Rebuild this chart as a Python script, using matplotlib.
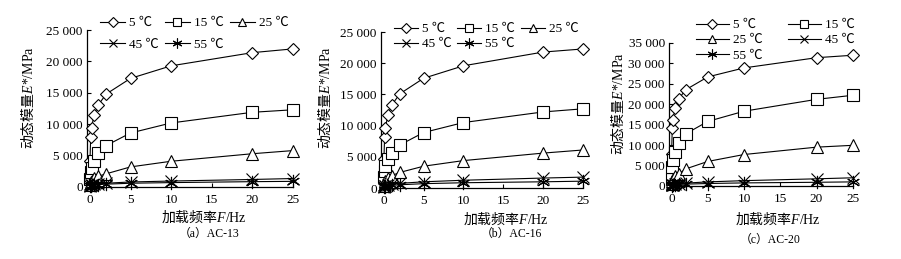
import matplotlib
matplotlib.use("Agg")
import matplotlib.pyplot as plt
from matplotlib.ticker import FuncFormatter, MultipleLocator
from matplotlib.font_manager import FontProperties

plt.rcParams['mathtext.fontset'] = 'custom'
plt.rcParams['mathtext.rm'] = 'Liberation Serif'
plt.rcParams['mathtext.it'] = 'Liberation Serif:italic'
plt.rcParams['font.family'] = ['Liberation Serif', 'Noto Sans CJK SC']

# ---------------- data ----------------
freq = [0.01, 0.1, 0.2, 0.5, 1, 2, 5, 10, 20, 25]
temps = ['5 ℃', '15 ℃', '25 ℃', '45 ℃', '55 ℃']

ac13_5 = [4200, 7900, 9400, 11400, 13000, 14800, 17300, 19300, 21400, 22000]
ac13_15 = [1200, 2400, 3000, 4200, 5400, 6600, 8600, 10200, 11900, 12300]
ac13_25 = [300, 800, 1000, 1400, 1700, 2100, 3200, 4100, 5300, 5800]
ac13_45 = [120, 250, 300, 400, 500, 600, 800, 950, 1200, 1350]
ac13_55 = [100, 200, 250, 320, 380, 450, 600, 700, 850, 900]

ac16_5 = [4600, 8200, 9600, 11700, 13300, 15100, 17600, 19600, 21800, 22300]
ac16_15 = [1800, 2700, 3500, 4600, 5600, 6900, 8900, 10500, 12200, 12700]
ac16_25 = [400, 900, 1200, 1600, 2000, 2500, 3500, 4400, 5600, 6100]
ac16_45 = [140, 290, 360, 480, 600, 750, 1000, 1250, 1600, 1750]
ac16_55 = [110, 220, 270, 350, 430, 520, 700, 850, 1000, 1100]

ac20_5 = [7900, 14200, 16200, 19200, 21400, 23600, 26700, 28900, 31400, 32000]
ac20_15 = [1800, 4600, 6400, 8300, 10500, 12800, 15800, 18300, 21200, 22200]
ac20_25 = [500, 1300, 1800, 2400, 3000, 4200, 6000, 7700, 9500, 9950]
ac20_45 = [120, 260, 330, 430, 550, 700, 1000, 1300, 1750, 2000]
ac20_55 = [90, 190, 240, 300, 370, 450, 600, 750, 900, 1000]

captions = ['（a）AC-13', '（b）AC-16', '（c）AC-20']
panels = [
    [ac13_5, ac13_15, ac13_25, ac13_45, ac13_55],
    [ac16_5, ac16_15, ac16_25, ac16_45, ac16_55],
    [ac20_5, ac20_15, ac20_25, ac20_45, ac20_55],
]
ymax = [25000, 25000, 35000]

markers = ['D', 's', '^', 'x', (6, 2, 0)]
msizes = [6.5, 8.5, 8.5, 8.5, 9.5]

W, H = 901, 259
fig = plt.figure(figsize=(W / 100, H / 100), dpi=100)

# axes positions [left, bottom, width, height] (figure fractions)
positions = [
    [0.0966, 0.278, 0.2286, 0.606],
    [0.4229, 0.274, 0.2240, 0.602],
    [0.7425, 0.282, 0.2040, 0.552],
]
xlab_pos = [(204, 216), (506, 218), (778, 218)]
cap_pos = [(209, 234), (511, 234), (770, 240)]
ylab_pos = [(28, 98), (325, 98), (618, 104)]

tickfont = FontProperties(family=['Liberation Serif', 'Noto Sans CJK SC'], size=9.5)
legfont = FontProperties(family=['Liberation Serif', 'Noto Sans CJK SC'], size=9.5)
cjk = FontProperties(family='Noto Sans CJK SC', size=10)
capfont = FontProperties(family=['Liberation Serif', 'Noto Sans CJK SC'], size=8.5)

leg_cfg = [
    dict(order=[0, 3, 1, 4, 2], ncol=3, anchor=(100, 17), handlelength=1.9,
         columnspacing=0.45, labelspacing=0.68),
    dict(order=[0, 3, 1, 4, 2], ncol=3, anchor=(394, 23), handlelength=1.8,
         columnspacing=0.45, labelspacing=0.22),
    dict(order=[0, 2, 4, 1, 3], ncol=2, anchor=(696, 19), handlelength=2.5,
         columnspacing=1.9, labelspacing=0.22),
]

def fmt(v, pos):
    v = int(round(v))
    if v >= 1000:
        return f"{v // 1000} {v % 1000:03d}"
    return str(v)

for i in range(3):
    ax = fig.add_axes(positions[i])
    handles = []
    for j, series in enumerate(panels[i]):
        m = markers[j]
        filled = m in ('x', (6, 2, 0))
        h, = ax.plot(freq, series, color='black', lw=0.8,
                     marker=m, markersize=msizes[j],
                     markerfacecolor='black' if filled else 'white',
                     markeredgecolor='black', markeredgewidth=0.8,
                     clip_on=False, label=temps[j], zorder=3 + j)
        handles.append(h)
    ax.set_xlim(-0.35, 25)
    ax.set_ylim(0, ymax[i])
    ax.xaxis.set_major_locator(MultipleLocator(5))
    ax.yaxis.set_major_locator(MultipleLocator(5000))
    ax.yaxis.set_major_formatter(FuncFormatter(fmt))
    ax.spines['top'].set_visible(False)
    ax.spines['right'].set_visible(False)
    for s in ('left', 'bottom'):
        ax.spines[s].set_linewidth(0.9)
    ax.tick_params(direction='in', length=3, width=0.8)
    ax.tick_params(axis='x', pad=5)
    ax.tick_params(axis='y', pad=3)
    for lab in ax.get_xticklabels() + ax.get_yticklabels():
        lab.set_fontproperties(tickfont)

    cfg = leg_cfg[i]
    order = cfg['order']
    ax.legend([handles[k] for k in order], [temps[k] for k in order],
              ncol=cfg['ncol'], loc='upper left',
              bbox_to_anchor=(cfg['anchor'][0] / W, 1 - cfg['anchor'][1] / H),
              bbox_transform=fig.transFigure,
              frameon=False, prop=legfont, handlelength=cfg['handlelength'],
              columnspacing=cfg['columnspacing'], handletextpad=0.3,
              labelspacing=cfg['labelspacing'], borderpad=0.0,
              borderaxespad=0.0, markerscale=0.75)

    fig.text(ylab_pos[i][0] / W, 1 - ylab_pos[i][1] / H, '动态模量$E\\mathrm{*/MPa}$',
             rotation=90, ha='center', va='center', fontproperties=cjk)
    fig.text(xlab_pos[i][0] / W, 1 - xlab_pos[i][1] / H, '加载频率$F\\mathrm{/Hz}$',
             ha='center', va='center', fontproperties=cjk)
    fig.text(cap_pos[i][0] / W, 1 - cap_pos[i][1] / H, captions[i],
             ha='center', va='center', fontproperties=capfont)

fig.savefig('out.png', dpi=100)
